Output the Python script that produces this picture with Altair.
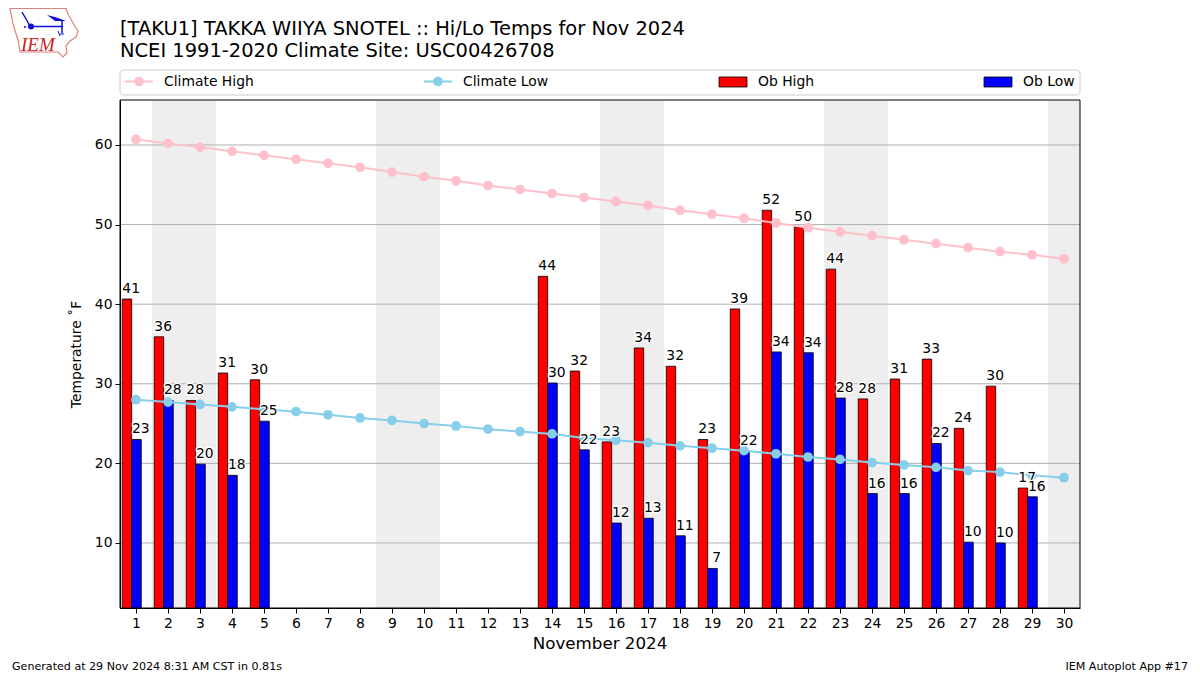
import urllib.parse
import altair as alt
import pandas as pd

days = list(range(1, 31))
climate_high = [60.7, 60.2, 59.7, 59.2, 58.7, 58.2, 57.7, 57.2, 56.6, 56.0, 55.5, 54.9, 54.4, 53.9, 53.4,
                52.9, 52.4, 51.8, 51.3, 50.8, 50.2, 49.6, 49.1, 48.6, 48.1, 47.6, 47.1, 46.6, 46.2, 45.7]
climate_low = [28.0, 27.7, 27.4, 27.1, 26.8, 26.5, 26.1, 25.7, 25.4, 25.0, 24.7, 24.3, 24.0, 23.7, 23.2,
               22.9, 22.6, 22.2, 21.9, 21.6, 21.2, 20.8, 20.5, 20.1, 19.8, 19.5, 19.1, 18.9, 18.5, 18.2]
ob_days = [1, 2, 3, 4, 5, 14, 15, 16, 17, 18, 19, 20, 21, 22, 23, 24, 25, 26, 27, 28, 29]
ob_high = [40.65, 35.9, 27.9, 31.35, 30.5, 43.5, 31.6, 22.7, 34.5, 32.2, 23.0, 39.4, 51.8, 49.7, 44.4,
           28.1, 30.6, 33.1, 24.4, 29.7, 16.9]
ob_low = [23.0, 27.9, 19.9, 18.5, 25.3, 30.1, 21.7, 12.5, 13.1, 10.9, 6.8, 21.6, 34.0, 33.9, 28.2,
          16.2, 16.2, 22.5, 10.1, 10.0, 15.8]
high_labels = [41, 36, 28, 31, 30, 44, 32, 23, 34, 32, 23, 39, 52, 50, 44, 28, 31, 33, 24, 30, 17]
low_labels = [23, 28, 20, 18, 25, 30, 22, 12, 13, 11, 7, 22, 34, 34, 28, 16, 16, 22, 10, 10, 16]
weekend_start = [1.5, 8.5, 15.5, 22.5, 29.5]
weekend_end = [3.5, 10.5, 17.5, 24.5, 30.5]
y_ticks = [10, 20, 30, 40, 50, 60]

FONT = "DejaVu Sans"
W, H = 960, 508
PL, PT = 112, 92
MARKER = 95
xs = alt.Scale(domain=[0.5, 30.5], nice=False, zero=False)
ys = alt.Scale(domain=[1.83, 65.65], nice=False, zero=False)
xaxis = alt.Axis(values=days, title=None, grid=False, format="d", labelFont=FONT, labelFontSize=13.9,
                 labelColor="black", tickColor="black", domainColor="black", tickSize=5, labelPadding=3,
                 labelOverlap=False, labelFlush=False, labelAngle=0, zindex=1)
yaxis = alt.Axis(values=y_ticks, title=None, grid=False, format="d", labelFont=FONT, labelFontSize=13.9,
                 labelColor="black", tickColor="black", domainColor="black", tickSize=5, labelPadding=3,
                 labelOverlap=False, zindex=1)


def X(f):
    return alt.X(f, type="quantitative", scale=xs, axis=xaxis)


def Y(f):
    return alt.Y(f, type="quantitative", scale=ys, axis=yaxis)


clim = pd.DataFrame({"day": days, "hi": climate_high, "lo": climate_low})
obs = pd.DataFrame({"day": ob_days, "hi": ob_high, "lo": ob_low, "hl": high_labels, "ll": low_labels})
obs["x0"] = obs.day - 0.43
obs["x1"] = obs.day - 0.135
obs["x2"] = obs.day + 0.165
obs["base"] = 0
bands = pd.DataFrame({"a": weekend_start, "b": weekend_end})
grid = pd.DataFrame({"y": y_ticks})
frame = pd.DataFrame({"a": [0.5], "b": [30.5], "c": [1.83], "d": [65.65]})

layers = [
    alt.Chart(bands).mark_rect(color="#eeeeee").encode(x=X("a"), x2="b"),
    alt.Chart(grid).mark_rule(color="#b0b0b0", strokeWidth=1).encode(y=Y("y")),
    alt.Chart(obs).mark_rect(color="red", stroke="black", strokeWidth=0.8, clip=True).encode(
        x=X("x0"), x2="x1", y=Y("hi"), y2="base"),
    alt.Chart(obs).mark_rect(color="blue", stroke="black", strokeWidth=0.8, clip=True).encode(
        x=X("x1"), x2="x2", y=Y("lo"), y2="base"),
]
for field, color in (("hi", "pink"), ("lo", "skyblue")):
    layers.append(alt.Chart(clim).mark_line(color=color, strokeWidth=2).encode(x=X("day"), y=Y(field)))
    layers.append(alt.Chart(clim).mark_point(color=color, filled=True, opacity=1, size=MARKER).encode(x=X("day"), y=Y(field)))

for xf, yf, tf in (("x1", "hi", "hl"), ("x2", "lo", "ll")):
    common = dict(font=FONT, fontSize=13.9, baseline="middle", align="center", dy=-10, dx=-0.5)
    enc = dict(x=X(xf), y=Y(yf), text=alt.Text(tf, type="quantitative"))
    layers.append(alt.Chart(obs).mark_text(color="white", stroke="white", strokeWidth=2.5, **common).encode(**enc))
    layers.append(alt.Chart(obs).mark_text(color="black", **common).encode(**enc))

layers.append(alt.Chart(frame).mark_rect(fillOpacity=0, stroke="black", strokeWidth=1).encode(
    x=X("a"), x2="b", y=Y("c"), y2="d"))


def px(x):
    return alt.value(x - 8 - PL)


def py(y):
    return alt.value(y - 8 - PT)


def text(s, x, y, size=13.9, align="left", **kw):
    args = dict(text=s, font=FONT, fontSize=size, align=align, baseline="middle", color="black")
    args.update(kw)
    return alt.Chart().mark_text(**args).encode(x=px(x), y=py(y))


layers += [
    text("[TAKU1] TAKKA WIIYA SNOTEL :: Hi/Lo Temps for Nov 2024", 120, 29, 19.45),
    text("NCEI 1991-2020 Climate Site: USC00426708", 120, 50.5, 19.45),
    text("November 2024", 600, 644, 16.7, "center"),
    text("Temperature \u02daF", 76.5, 354.5, 13.9, "center", angle=270),
    text("Generated at 29 Nov 2024 8:31 AM CST in 0.81s", 12, 666.5, 11.1),
    text("IEM Autoplot App #17", 1188, 666.5, 11.1, "right"),
]

# legend box and entries
layers.append(alt.Chart().mark_rect(fill="white", stroke="#cccccc", strokeWidth=1, cornerRadius=4).encode(
    x=px(120), x2=px(1080), y=py(70), y2=py(95)))
for x0, color, label, tx in ((125, "pink", "Climate High", 164), (424, "skyblue", "Climate Low", 463)):
    layers.append(alt.Chart().mark_rule(color=color, strokeWidth=2).encode(
        x=px(x0), x2=px(x0 + 28), y=py(81.5)))
    layers.append(alt.Chart().mark_point(color=color, filled=True, opacity=1, size=MARKER).encode(
        x=px(x0 + 14), y=py(81.5)))
    layers.append(text(label, tx, 81.5))
for x0, color, label, tx in ((719, "red", "Ob High", 758), (984, "blue", "Ob Low", 1023)):
    layers.append(alt.Chart().mark_rect(fill=color, stroke="black", strokeWidth=0.8).encode(
        x=px(x0), x2=px(x0 + 28), y=py(77), y2=py(87)))
    layers.append(text(label, tx, 81.5))

# logo
logo_svg = (
    "<svg xmlns='http://www.w3.org/2000/svg' width='80' height='60' viewBox='0 0 80 60'>"
    "<path d='M10 8.5 L66 8.5 L68 14 L73 23 L78 31 L76 37 L70 41 L66 46 L67 53 L63 57 L58 52 L20 52 L18 40 L13 24 Z' "
    "fill='none' stroke='#e08080' stroke-width='1.2'/>"
    "<path d='M31 26.5 L63 26.5 M62 21 L62 33 M22 12 L30 26' stroke='#1010d0' stroke-width='1.5' fill='none'/>"
    "<circle cx='31' cy='26.5' r='3' fill='#1010d0'/>"
    "<path d='M47 15 L55 17 L66 21 L55 21 Z' fill='#1010d0'/>"
    "<path d='M60 34 L64 34 M58 31 L60 36' stroke='#1010d0' stroke-width='1'/>"
    "<circle cx='25' cy='27' r='1' fill='#1010d0'/>"
    "</svg>"
)
layers.append(alt.Chart().mark_image(url="data:image/svg+xml," + urllib.parse.quote(logo_svg), width=80, height=60,
                                     align="left", baseline="top").encode(x=px(0), y=py(0)))
layers.append(text("IEM", 21, 45, 19, font="Liberation Serif", fontStyle="italic", color="#d02020"))

chart = alt.layer(*layers).properties(
    width=W, height=H,
    autosize=alt.AutoSizeParams(type="none"),
    padding={"left": PL, "top": PT, "right": 112, "bottom": 67},
).configure_view(stroke=None)

chart.save("out.html", embed_options={"renderer": "svg", "actions": False})
